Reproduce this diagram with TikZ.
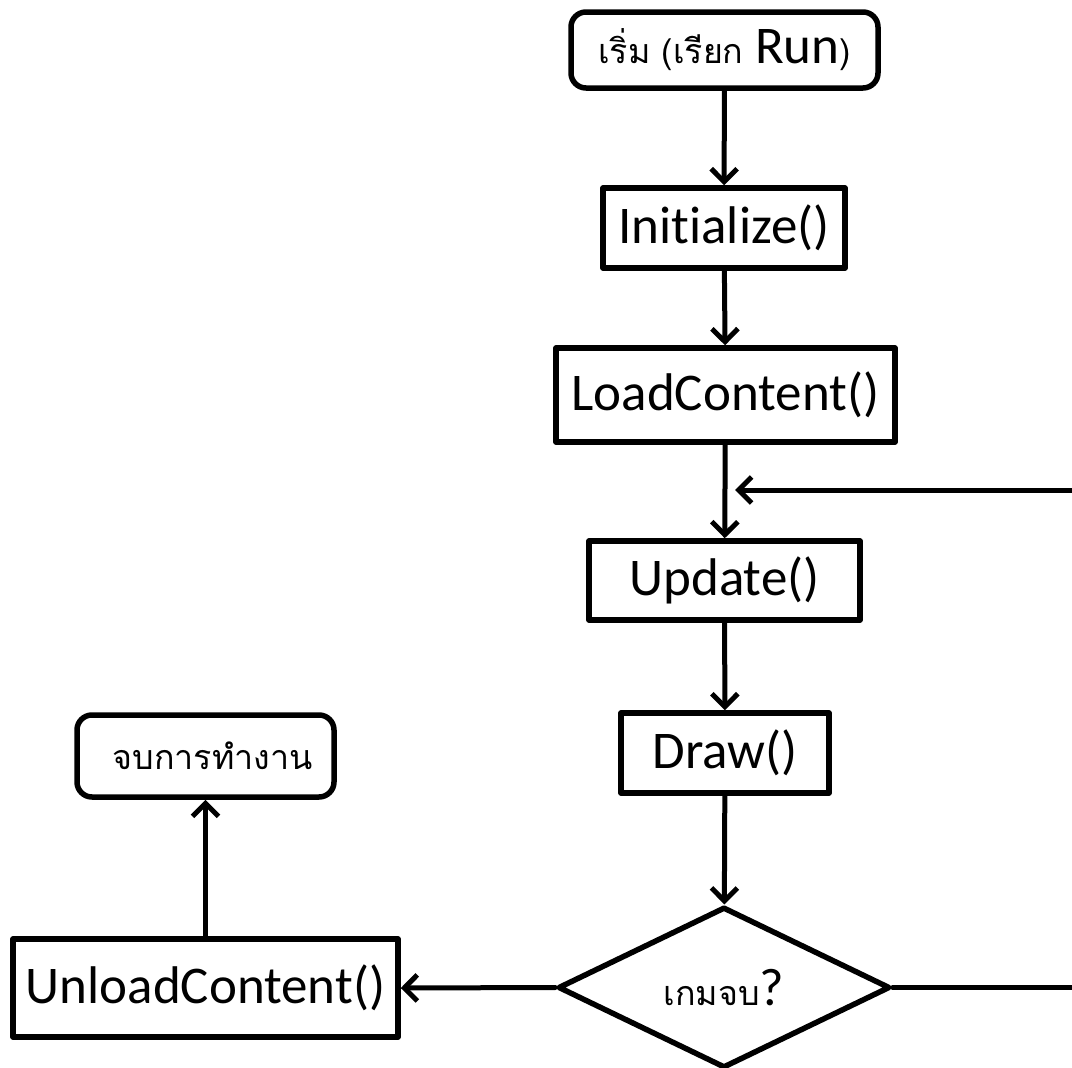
\documentclass[tikz,border=0pt]{standalone}
\usepackage{fontspec}
\setmainfont{Carlito}[Ligatures=NoCommon]
\newfontfamily\thaifont[Script=Thai]{Loma}
\usetikzlibrary{shapes.geometric,arrows.meta}
\definecolor{ink}{RGB}{0,0,0}
\newcommand\latinsize{\fontsize{53}{61}\selectfont}
\newcommand\thaisize{\thaifont\fontsize{34}{42}\selectfont}

\begin{document}
\begin{tikzpicture}[x=1pt,y=-1pt,line cap=round,line join=round,
  box/.style={draw=ink,line width=5.5pt,rectangle,inner sep=0pt,font=\latinsize,text=ink},
  terminal/.style={box,rounded corners=15pt},
  decision/.style={draw=ink,line width=5.5pt,diamond,inner sep=0pt,text=ink},
  flow/.style={draw=ink,line width=5pt,-{Straight Barb[length=13pt,width=26pt]}},
  flowline/.style={draw=ink,line width=5pt}]
\useasboundingbox (0,0) rectangle (1072,1068);
\node[terminal,minimum width=307pt,minimum height=76pt] (start) at (724.5,50) {{\thaisize เริ่ม (เรียก }Run{\thaisize )}};
\node[box,minimum width=242pt,minimum height=80pt] (init) at (724,228) {Initialize()};
\node[box,minimum width=339pt,minimum height=94pt] (load) at (725.5,395) {LoadContent()};
\node[box,minimum width=271pt,minimum height=79pt] (update) at (724.5,580.5) {Update()};
\node[box,minimum width=208pt,minimum height=80pt] (render) at (725,753) {Draw()};
\node[decision,minimum width=332pt,minimum height=161pt] (gameover) at (724,987.5) {{\thaisize เกมจบ}{\latinsize ?}};
\node[box,minimum width=385pt,minimum height=98pt] (unload) at (205.5,988) {UnloadContent()};
\node[terminal,minimum width=257pt,minimum height=82pt] (finish) at (205.5,756) {\thaisize\hspace*{14pt}จบการทำงาน};
\coordinate (exitR) at (1072,987.5);
\coordinate (loopR) at (1072,490);
\coordinate (loopin) at (735,490);
\draw[flow] (start) -- (init);
\draw[flow] (init) -- (load);
\draw[flow] (load) -- (update);
\draw[flow] (update) -- (render);
\draw[flow] (render) -- (gameover);
\draw[flow] (gameover.west) -- (unload.east);
\draw[flow] (unload) -- (finish);
\draw[flowline] (gameover.east) -- (exitR);
\draw[flow] (loopR) -- (loopin);
\end{tikzpicture}
\end{document}
